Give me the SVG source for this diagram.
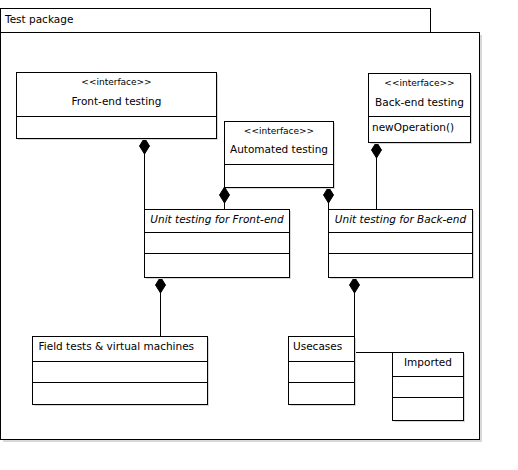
<svg xmlns="http://www.w3.org/2000/svg" width="518" height="470" viewBox="0 0 518 470">
<style>
.b{fill:#fff;stroke:#000;stroke-width:1}
.s{fill:#d8d8d8}
.l{stroke:#000;stroke-width:1;fill:none}
.t{font-family:"DejaVu Sans","Liberation Sans",sans-serif;font-size:10.5px;fill:#000}
.st{font-family:"DejaVu Sans","Liberation Sans",sans-serif;font-size:9px;fill:#000}
.i{font-style:italic}
.d{fill:#000;stroke:#000}
</style>
<defs>
<path id="dia" d="M0,0 L5,8 L0,16 L-5,8 Z"/>
</defs>
<rect width="518" height="470" fill="#fff"/>
<g id="package">
<rect class="s" x="3" y="35" width="479" height="407"/>
<rect class="b" x="0.5" y="8.5" width="430" height="24"/>
<rect class="b" x="0.5" y="32.5" width="479" height="407"/>
<text class="t" x="5" y="23" font-size="11.5px">Test package</text>
</g>
<g id="connectors">
<line class="l" x1="144.5" y1="138" x2="144.5" y2="209"/>
<use href="#dia" class="d" x="144.5" y="138"/>
<line class="l" x1="224.5" y1="187" x2="224.5" y2="209"/>
<use href="#dia" class="d" x="224.5" y="187"/>
<line class="l" x1="328.5" y1="187" x2="328.5" y2="209"/>
<use href="#dia" class="d" x="328.5" y="187"/>
<line class="l" x1="376.5" y1="142" x2="376.5" y2="209"/>
<use href="#dia" class="d" x="376.5" y="142"/>
<line class="l" x1="160.5" y1="277" x2="160.5" y2="336"/>
<use href="#dia" class="d" x="160.5" y="277"/>
<line class="l" x1="354.5" y1="277" x2="354.5" y2="336"/>
<use href="#dia" class="d" x="354.5" y="277"/>
<line class="l" x1="355" y1="352.5" x2="392" y2="352.5"/>
</g>
<g id="frontend">
<rect class="s" x="18" y="74" width="200" height="66"/>
<rect class="b" x="16.5" y="72.5" width="200" height="66"/>
<line class="l" x1="16.5" y1="116.5" x2="216.5" y2="116.5"/>
<text class="st" x="116.5" y="85" text-anchor="middle">&lt;&lt;interface&gt;&gt;</text>
<text class="t" x="116.5" y="105" text-anchor="middle">Front-end testing</text>
</g>
<g id="automated">
<rect class="s" x="226" y="123" width="109" height="66"/>
<rect class="b" x="224.5" y="121.5" width="109" height="66"/>
<line class="l" x1="224.5" y1="164.5" x2="333.5" y2="164.5"/>
<text class="st" x="279" y="133.5" text-anchor="middle">&lt;&lt;interface&gt;&gt;</text>
<text class="t" x="279" y="153" text-anchor="middle">Automated testing</text>
</g>
<g id="backend">
<rect class="s" x="370" y="75" width="102" height="69"/>
<rect class="b" x="368.5" y="73.5" width="102" height="69"/>
<line class="l" x1="368.5" y1="116.5" x2="470.5" y2="116.5"/>
<text class="st" x="419.5" y="86" text-anchor="middle">&lt;&lt;interface&gt;&gt;</text>
<text class="t" x="419.5" y="105.5" text-anchor="middle">Back-end testing</text>
<text class="t" x="372" y="131">newOperation()</text>
</g>
<g id="unitfront">
<rect class="s" x="146" y="211" width="145" height="68"/>
<rect class="b" x="144.5" y="209.5" width="145" height="68"/>
<line class="l" x1="144.5" y1="232.5" x2="289.5" y2="232.5"/>
<line class="l" x1="144.5" y1="253.5" x2="289.5" y2="253.5"/>
<text class="t i" x="217" y="222.5" text-anchor="middle">Unit testing for Front-end</text>
</g>
<g id="unitback">
<rect class="s" x="330" y="211" width="144" height="68"/>
<rect class="b" x="328.5" y="209.5" width="144" height="68"/>
<line class="l" x1="328.5" y1="232.5" x2="472.5" y2="232.5"/>
<line class="l" x1="328.5" y1="253.5" x2="472.5" y2="253.5"/>
<text class="t i" x="400.5" y="222.5" text-anchor="middle">Unit testing for Back-end</text>
</g>
<g id="fieldtests">
<rect class="s" x="34" y="338" width="175" height="68"/>
<rect class="b" x="32.5" y="336.5" width="175" height="68"/>
<line class="l" x1="32.5" y1="361.5" x2="207.5" y2="361.5"/>
<line class="l" x1="32.5" y1="382.5" x2="207.5" y2="382.5"/>
<text class="t" x="38.5" y="349.5">Field tests &amp; virtual machines</text>
</g>
<g id="usecases">
<rect class="s" x="290" y="338" width="66" height="68"/>
<rect class="b" x="288.5" y="336.5" width="66" height="68"/>
<line class="l" x1="288.5" y1="361.5" x2="354.5" y2="361.5"/>
<line class="l" x1="288.5" y1="382.5" x2="354.5" y2="382.5"/>
<text class="t" x="293" y="349.5">Usecases</text>
</g>
<g id="imported">
<rect class="s" x="394" y="354" width="71" height="68"/>
<rect class="b" x="392.5" y="352.5" width="71" height="68"/>
<line class="l" x1="392.5" y1="376.5" x2="463.5" y2="376.5"/>
<line class="l" x1="392.5" y1="397.5" x2="463.5" y2="397.5"/>
<text class="t" x="428" y="365.5" text-anchor="middle">Imported</text>
</g>
</svg>
